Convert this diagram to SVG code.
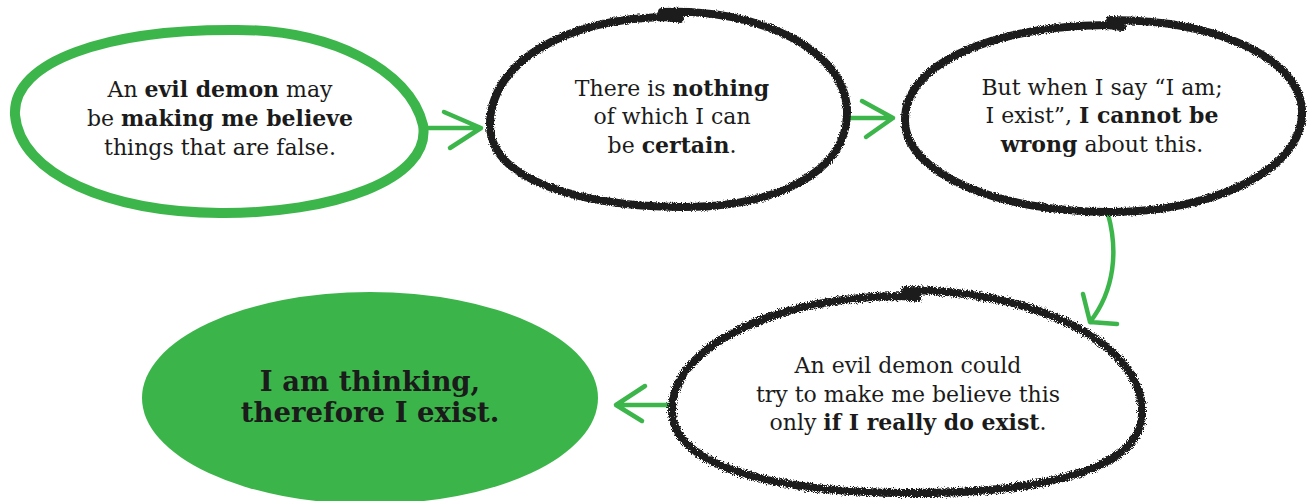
<svg xmlns="http://www.w3.org/2000/svg" width="1309" height="501" viewBox="0 0 1309 501">
  <defs>
    <filter id="rough" x="-5%" y="-5%" width="110%" height="110%">
      <feTurbulence type="fractalNoise" baseFrequency="0.9" numOctaves="2" seed="3" result="n"/>
      <feDisplacementMap in="SourceGraphic" in2="n" scale="4" xChannelSelector="R" yChannelSelector="G"/>
    </filter>
    <filter id="rougher" x="-5%" y="-5%" width="110%" height="110%">
      <feTurbulence type="fractalNoise" baseFrequency="1.2" numOctaves="3" seed="7" result="n"/>
      <feDisplacementMap in="SourceGraphic" in2="n" scale="7" xChannelSelector="R" yChannelSelector="G"/>
    </filter>
    <style>
      .bg { fill: #ffffff; }
      .green-ring { fill: none; stroke: #3cb64a; stroke-width: 10; stroke-linejoin: round; }
      .black-ring { fill: none; stroke: #1b1b1b; stroke-width: 8; stroke-linejoin: round; stroke-linecap: round; }
      .green-fill { fill: #3bb54a; }
      .conn { fill: none; stroke: #3cb64a; stroke-width: 4.5; stroke-linecap: round; stroke-linejoin: round; }
      .t { font-family: "DejaVu Serif", "Liberation Serif", serif; font-size: 22px; fill: #1b1b1b; text-anchor: middle; }
      .b { font-weight: bold; }
      .big { font-family: "DejaVu Serif", "Liberation Serif", serif; font-size: 27.5px; font-weight: 900; fill: #1b1b1b; text-anchor: middle; }
    </style>
  </defs>
  <rect class="bg" x="0" y="0" width="1309" height="501"/>

  <g id="connectors">
    <path class="conn" d="M 424,128 L 481,128 M 444,112 L 481,128 L 450,148"/>
    <path class="conn" d="M 849,118 L 893,118 M 862,101 L 893,118 L 866,137"/>
    <path class="conn" d="M 1108,214 C 1118,250 1115,290 1090,322 M 1083,294 L 1090,322 L 1117,324"/>
    <path class="conn" d="M 670,405 L 616,405 M 645,386 L 616,405 L 642,421"/>
  </g>

  <g id="node-demon">
    <path class="green-ring" d="M 230,30 C 330,28 410,70 423,125 C 432,180 330,214 220,213 C 110,212 20,175 15,115 C 12,60 110,30 230,30 Z"/>
    <text class="t" x="220" y="97">An <tspan class="b">evil demon</tspan> may</text>
    <text class="t" x="220" y="126">be <tspan class="b">making me believe</tspan></text>
    <text class="t" x="220" y="155">things that are false.</text>
  </g>

  <g id="node-nothing">
    <path class="black-ring" filter="url(#rough)" d="M 662,12 C 760,8 845,50 847,110 C 849,175 770,208 680,207 C 580,206 490,180 490,125 C 490,60 570,18 665,17 L 680,19"/>
    <text class="t" x="672" y="96">There is <tspan class="b">nothing</tspan></text>
    <text class="t" x="672" y="124">of which I can</text>
    <text class="t" x="672" y="153">be <tspan class="b">certain</tspan>.</text>
  </g>

  <g id="node-exist">
    <path class="black-ring" filter="url(#rough)" d="M 1110,20 C 1220,20 1300,60 1302,110 C 1305,170 1210,213 1110,212 C 1000,212 905,175 905,120 C 905,60 1000,26 1108,25 L 1122,27"/>
    <text class="t" x="1102" y="95">But when I say “I am;</text>
    <text class="t" x="1102" y="123">I exist”, <tspan class="b">I cannot be</tspan></text>
    <text class="t" x="1102" y="152"><tspan class="b">wrong</tspan> about this.</text>
  </g>

  <g id="node-could">
    <path class="black-ring" filter="url(#rougher)" stroke-width="9" d="M 905,290 C 1030,290 1140,340 1142,410 C 1145,470 1040,494 905,493 C 770,492 672,465 672,410 C 672,345 780,296 902,296 L 918,298"/>
    <text class="t" x="908" y="373">An evil demon could</text>
    <text class="t" x="908" y="402">try to make me believe this</text>
    <text class="t" x="908" y="430">only <tspan class="b">if I really do exist</tspan>.</text>
  </g>

  <g id="node-cogito">
    <ellipse class="green-fill" cx="370" cy="398" rx="228" ry="106"/>
    <text class="big" x="370" y="391">I am thinking,</text>
    <text class="big" x="370" y="422">therefore I exist.</text>
  </g>
</svg>
